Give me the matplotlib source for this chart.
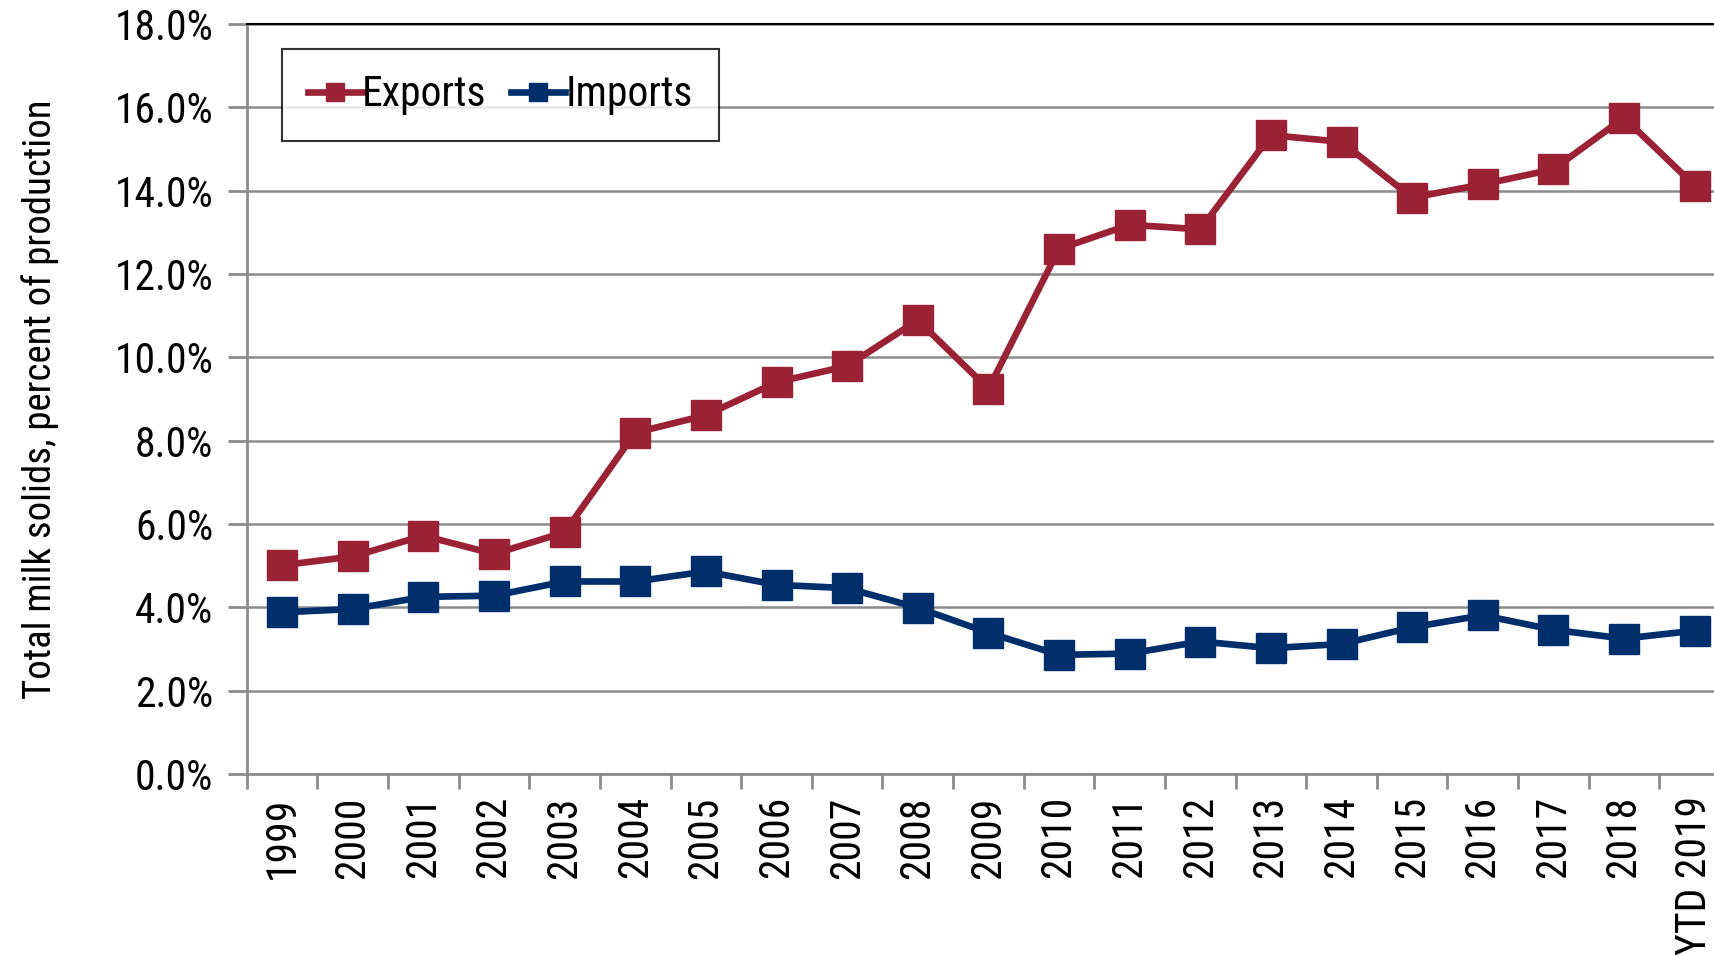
import matplotlib
matplotlib.use("Agg")
import matplotlib.pyplot as plt
from matplotlib import font_manager
import numpy as np
from matplotlib.ticker import FixedLocator, FuncFormatter

# prefer a condensed face if one is installed, otherwise plain Liberation Sans
installed = {f.name for f in font_manager.fontManager.ttflist}
families = [f for f in ['Liberation Sans Narrow', 'Arial Narrow', 'Roboto Condensed']
            if f in installed]
plt.rcParams['font.family'] = families + ['Liberation Sans', 'DejaVu Sans']
narrow = bool(families)

years = ['1999', '2000', '2001', '2002', '2003', '2004', '2005', '2006', '2007',
         '2008', '2009', '2010', '2011', '2012', '2013', '2014', '2015', '2016',
         '2017', '2018', 'YTD 2019']
exports = [5.01, 5.22, 5.72, 5.28, 5.80, 8.19, 8.61, 9.40, 9.79, 10.89, 9.24,
           12.60, 13.18, 13.07, 15.33, 15.17, 13.83, 14.15, 14.51, 15.75, 14.12]
imports = [3.88, 3.96, 4.25, 4.28, 4.62, 4.62, 4.86, 4.54, 4.46, 3.99, 3.39,
           2.86, 2.89, 3.18, 3.02, 3.12, 3.52, 3.81, 3.46, 3.25, 3.44]

export_color = '#9B2235'
import_color = '#002F6C'
grid_gray = '#8C8C8C'

fs = 30 if narrow else 26

fig = plt.figure(figsize=(17.14, 9.55), dpi=100)
# plot area runs slightly past the right edge, like the source image
ax = fig.add_axes([0.144, 0.1895, 0.8653, 0.7855])

x = np.arange(len(years))
ax.plot(x, exports, color=export_color, lw=4.8, marker='s', ms=21,
        label='Exports')
ax.plot(x, imports, color=import_color, lw=4.8, marker='s', ms=21,
        label='Imports')

ax.set_xlim(-0.5, len(years) - 0.5)
ax.set_ylim(0, 18)
ax.set_yticks(np.arange(0, 18.1, 2))
ax.yaxis.set_major_formatter(FuncFormatter(lambda v, p: f'{v:.1f}%'))
ax.yaxis.grid(True, color=grid_gray, lw=1.8)
ax.set_axisbelow(True)

ax.set_xticks(x)
ax.set_xticklabels(years, rotation=90)
ax.xaxis.set_minor_locator(FixedLocator(np.arange(-0.5, len(years), 1)))
ax.tick_params(axis='x', which='major', length=0, pad=16, labelsize=fs)
ax.tick_params(axis='x', which='minor', length=11, width=2, color=grid_gray)
ax.tick_params(axis='y', length=14, width=2, color=grid_gray, pad=10, labelsize=fs)

for side in ['left', 'bottom']:
    ax.spines[side].set_color(grid_gray)
    ax.spines[side].set_linewidth(2)
ax.spines['top'].set_color('black')
ax.spines['top'].set_linewidth(1.5)
ax.spines['right'].set_visible(False)

ax.set_ylabel('Total milk solids, percent of production', fontsize=fs - 2,
              labelpad=40)

leg = ax.legend(loc='upper left', bbox_to_anchor=(0.0235, 0.967), ncol=2,
                fontsize=fs, frameon=True, fancybox=False, handlelength=1.3,
                handletextpad=0.0, columnspacing=0.6, borderpad=0.62,
                borderaxespad=0, markerscale=0.62)
leg.get_frame().set_edgecolor('black')
leg.get_frame().set_linewidth(1.5)

fig.savefig('out.png', dpi=100, facecolor='white')
